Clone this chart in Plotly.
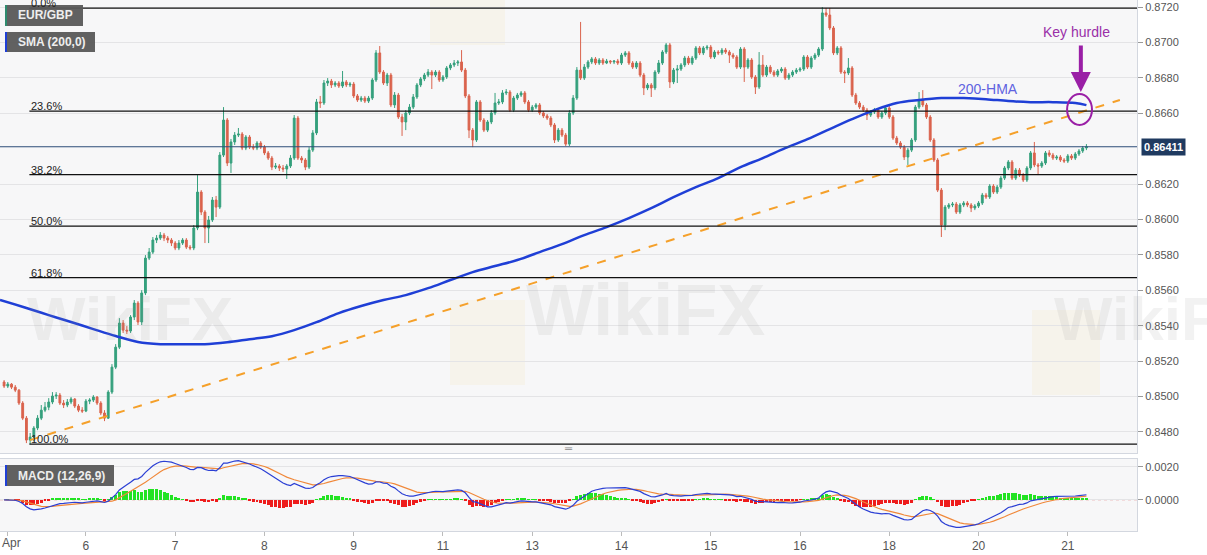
import plotly.graph_objects as go

# ---------------- data (EUR/GBP hourly) ----------------
first_open = 0.85082
close = [0.85059,0.85070,0.85053,0.85036,0.84963,0.84878,0.84754,0.84771,0.84822,0.84878,
0.84923,0.84940,0.84969,0.85003,0.85008,0.84963,0.84952,0.84969,0.84986,0.84946,
0.84923,0.84918,0.84974,0.84980,0.84997,0.84963,0.84907,0.84878,0.85025,0.85166,
0.85279,0.85415,0.85375,0.85370,0.85449,0.85528,0.85421,0.85585,0.85782,0.85816,
0.85884,0.85895,0.85912,0.85895,0.85884,0.85867,0.85839,0.85867,0.85884,0.85844,
0.85839,0.85952,0.86155,0.86042,0.85952,0.85997,0.86110,0.86070,0.86364,0.86562,
0.86319,0.86438,0.86477,0.86483,0.86404,0.86466,0.86409,0.86404,0.86432,0.86409,
0.86376,0.86347,0.86296,0.86302,0.86291,0.86285,0.86302,0.86347,0.86573,0.86347,
0.86336,0.86296,0.86392,0.86489,0.86664,0.86658,0.86771,0.86782,0.86760,0.86771,
0.86754,0.86777,0.86760,0.86765,0.86698,0.86675,0.86686,0.86669,0.86686,0.86788,
0.86941,0.86833,0.86771,0.86816,0.86647,0.86703,0.86579,0.86551,0.86602,0.86635,
0.86692,0.86760,0.86794,0.86816,0.86833,0.86816,0.86833,0.86788,0.86805,0.86856,
0.86873,0.86884,0.86890,0.86844,0.86698,0.86505,0.86449,0.86664,0.86562,0.86505,
0.86551,0.86602,0.86658,0.86664,0.86715,0.86720,0.86618,0.86686,0.86703,0.86715,
0.86664,0.86618,0.86635,0.86647,0.86602,0.86585,0.86573,0.86534,0.86449,0.86505,
0.86477,0.86426,0.86602,0.86686,0.86844,0.86799,0.86861,0.86890,0.86907,0.86884,
0.86901,0.86884,0.86895,0.86890,0.86895,0.86884,0.86929,0.86941,0.86884,0.86861,
0.86884,0.86816,0.86743,0.86760,0.86743,0.86833,0.86884,0.86946,0.86986,0.86777,
0.86844,0.86850,0.86873,0.86912,0.86884,0.86912,0.86969,0.86941,0.86969,0.86974,
0.86918,0.86946,0.86941,0.86957,0.86946,0.86929,0.86918,0.86861,0.86963,0.86861,
0.86901,0.86805,0.86748,0.86873,0.86816,0.86861,0.86833,0.86816,0.86839,0.86850,
0.86799,0.86816,0.86833,0.86844,0.86850,0.86918,0.86861,0.86912,0.86929,0.86963,
0.87167,0.87155,0.87082,0.86941,0.86969,0.86833,0.86828,0.86856,0.86703,0.86658,
0.86635,0.86618,0.86590,0.86607,0.86618,0.86579,0.86602,0.86630,0.86579,0.86460,
0.86432,0.86409,0.86353,0.86392,0.86449,0.86635,0.86675,0.86647,0.86579,0.86449,
0.86336,0.86166,0.85969,0.86070,0.86082,0.86087,0.86042,0.86082,0.86093,0.86082,
0.86065,0.86076,0.86093,0.86138,0.86127,0.86189,0.86155,0.86183,0.86234,0.86291,
0.86325,0.86234,0.86279,0.86251,0.86223,0.86291,0.86376,0.86308,0.86302,0.86319,
0.86376,0.86364,0.86347,0.86353,0.86336,0.86330,0.86359,0.86347,0.86370,0.86387,
0.86404,0.86411]
high = [0.85093,0.85082,0.85076,0.85065,0.85042,0.84974,0.84890,0.84794,0.84833,0.84895,
0.84952,0.84969,0.84991,0.85025,0.85025,0.85020,0.84980,0.84986,0.84997,0.84991,
0.84957,0.84940,0.84986,0.84991,0.85008,0.85003,0.84974,0.84923,0.85036,0.85183,
0.85296,0.85443,0.85432,0.85398,0.85460,0.85545,0.85539,0.85601,0.85799,0.85839,
0.85901,0.85912,0.85929,0.85924,0.85907,0.85895,0.85878,0.85884,0.85895,0.85895,
0.85856,0.85969,0.86251,0.86166,0.86053,0.86020,0.86127,0.86133,0.86381,0.86635,
0.86573,0.86455,0.86494,0.86517,0.86494,0.86477,0.86477,0.86426,0.86443,0.86443,
0.86421,0.86387,0.86359,0.86319,0.86313,0.86308,0.86313,0.86364,0.86590,0.86585,
0.86359,0.86347,0.86409,0.86505,0.86681,0.86698,0.86788,0.86799,0.86794,0.86782,
0.86782,0.86839,0.86788,0.86777,0.86777,0.86709,0.86698,0.86698,0.86698,0.86799,
0.86957,0.86980,0.86844,0.86828,0.86828,0.86720,0.86715,0.86596,0.86618,0.86652,
0.86709,0.86771,0.86805,0.86828,0.86850,0.86844,0.86844,0.86844,0.86816,0.86867,
0.86884,0.86901,0.86901,0.86957,0.86856,0.86709,0.86517,0.86675,0.86675,0.86573,
0.86562,0.86618,0.86715,0.86681,0.86731,0.86737,0.86731,0.86698,0.86715,0.86726,
0.86726,0.86675,0.86647,0.86658,0.86658,0.86613,0.86596,0.86585,0.86545,0.86517,
0.86517,0.86489,0.86618,0.86703,0.86861,0.87116,0.86878,0.86901,0.86918,0.86918,
0.86912,0.86912,0.86907,0.86901,0.86901,0.86907,0.86941,0.86952,0.86952,0.86895,
0.86895,0.86895,0.86828,0.86771,0.86771,0.86844,0.86901,0.86957,0.86997,0.86997,
0.86856,0.86873,0.86884,0.86924,0.86924,0.86924,0.86980,0.86980,0.86980,0.86986,
0.86986,0.86957,0.86957,0.86969,0.86969,0.86957,0.86941,0.86929,0.86974,0.86974,
0.86912,0.86912,0.86816,0.86946,0.86929,0.86873,0.86873,0.86844,0.86850,0.86861,
0.86861,0.86828,0.86844,0.86856,0.86861,0.86929,0.86929,0.86924,0.86941,0.86974,
0.87200,0.87195,0.87195,0.87093,0.86980,0.86980,0.86844,0.86912,0.86867,0.86715,
0.86669,0.86647,0.86630,0.86618,0.86630,0.86630,0.86613,0.86641,0.86641,0.86590,
0.86472,0.86443,0.86421,0.86404,0.86460,0.86647,0.86720,0.86731,0.86658,0.86590,
0.86460,0.86347,0.86178,0.86082,0.86093,0.86099,0.86099,0.86093,0.86104,0.86104,
0.86093,0.86087,0.86104,0.86150,0.86150,0.86200,0.86200,0.86195,0.86246,0.86302,
0.86336,0.86336,0.86291,0.86291,0.86263,0.86302,0.86387,0.86438,0.86319,0.86330,
0.86387,0.86392,0.86376,0.86364,0.86364,0.86347,0.86370,0.86370,0.86381,0.86398,
0.86415,0.86426]
low = [0.85048,0.85048,0.85042,0.85025,0.84952,0.84867,0.84737,0.84731,0.84748,0.84810,
0.84867,0.84912,0.84923,0.84957,0.84986,0.84952,0.84935,0.84940,0.84957,0.84935,
0.84912,0.84907,0.84912,0.84957,0.84969,0.84952,0.84895,0.84861,0.84873,0.85014,
0.85155,0.85268,0.85359,0.85353,0.85359,0.85432,0.85404,0.85404,0.85573,0.85771,
0.85805,0.85867,0.85884,0.85878,0.85867,0.85850,0.85827,0.85827,0.85856,0.85833,
0.85827,0.85827,0.85940,0.86025,0.85867,0.85867,0.85986,0.86014,0.86059,0.86353,
0.86302,0.86263,0.86421,0.86466,0.86392,0.86392,0.86398,0.86392,0.86392,0.86398,
0.86364,0.86336,0.86279,0.86285,0.86274,0.86268,0.86229,0.86291,0.86336,0.86336,
0.86319,0.86279,0.86285,0.86381,0.86477,0.86630,0.86647,0.86754,0.86743,0.86748,
0.86743,0.86743,0.86748,0.86748,0.86686,0.86664,0.86664,0.86658,0.86658,0.86675,
0.86777,0.86822,0.86760,0.86754,0.86635,0.86630,0.86568,0.86472,0.86505,0.86590,
0.86624,0.86681,0.86748,0.86782,0.86805,0.86737,0.86805,0.86777,0.86777,0.86794,
0.86844,0.86861,0.86867,0.86833,0.86686,0.86460,0.86409,0.86438,0.86551,0.86494,
0.86494,0.86539,0.86590,0.86647,0.86652,0.86703,0.86607,0.86607,0.86675,0.86692,
0.86652,0.86607,0.86607,0.86624,0.86590,0.86573,0.86562,0.86522,0.86432,0.86438,
0.86466,0.86415,0.86415,0.86590,0.86675,0.86788,0.86788,0.86850,0.86878,0.86873,
0.86873,0.86873,0.86878,0.86878,0.86878,0.86873,0.86873,0.86918,0.86873,0.86850,
0.86850,0.86805,0.86703,0.86731,0.86692,0.86731,0.86822,0.86873,0.86935,0.86743,
0.86765,0.86771,0.86839,0.86861,0.86873,0.86873,0.86901,0.86929,0.86929,0.86957,
0.86907,0.86907,0.86929,0.86929,0.86935,0.86884,0.86907,0.86850,0.86850,0.86777,
0.86850,0.86794,0.86709,0.86737,0.86805,0.86805,0.86822,0.86805,0.86805,0.86828,
0.86788,0.86788,0.86805,0.86822,0.86833,0.86839,0.86850,0.86850,0.86901,0.86918,
0.86952,0.87144,0.87070,0.86929,0.86929,0.86822,0.86771,0.86816,0.86692,0.86647,
0.86624,0.86607,0.86562,0.86579,0.86596,0.86568,0.86568,0.86590,0.86568,0.86449,
0.86421,0.86398,0.86336,0.86308,0.86381,0.86438,0.86624,0.86635,0.86568,0.86438,
0.86325,0.86155,0.85901,0.85940,0.86059,0.86070,0.86031,0.86031,0.86070,0.86070,
0.86042,0.86053,0.86065,0.86082,0.86116,0.86116,0.86144,0.86144,0.86172,0.86223,
0.86279,0.86223,0.86223,0.86240,0.86212,0.86212,0.86279,0.86296,0.86251,0.86291,
0.86308,0.86353,0.86336,0.86336,0.86325,0.86319,0.86319,0.86336,0.86336,0.86359,
0.86376,0.86392]

sma_idx = [-1.1, 6, 12, 18, 24, 30, 36, 42, 48, 54, 60, 66, 72, 78, 84, 90, 96, 102, 108, 114,
           120, 126, 132, 138, 144, 150, 156, 162, 168, 174, 180, 186, 192, 198, 204, 210,
           216, 222, 228, 234, 240, 246, 252, 258, 264, 270, 276, 282, 288, 291]
sma_val = [0.85545, 0.85500, 0.85460, 0.85421, 0.85381, 0.85342, 0.85308, 0.85296, 0.85296,
           0.85296, 0.85307, 0.85324, 0.85341, 0.85375, 0.85420, 0.85471, 0.85511, 0.85545,
           0.85573, 0.85612, 0.85658, 0.85703, 0.85737, 0.85771, 0.85816, 0.85861, 0.85912,
           0.85957, 0.86008, 0.86064, 0.86126, 0.86183, 0.86234, 0.86296, 0.86347, 0.86403,
           0.86454, 0.86511, 0.86567, 0.86618, 0.86658, 0.86675, 0.86686, 0.86686, 0.86680,
           0.86669, 0.86663, 0.86663, 0.86658, 0.86646]

# Fibonacci retracement
fib_high = 0.87194
fib_low = 0.84731
fib_levels = [0.0, 0.236, 0.382, 0.5, 0.618, 1.0]
fib_labels = ["0.0%", "23.6%", "38.2%", "50.0%", "61.8%", "100.0%"]

# support trend line (start/end)
trend_x = [7, 300]
trend_y = [0.84754, 0.86675]

last_price = 0.86411

tick_pos = [1, 22, 46, 70, 94, 118, 142, 166, 190, 214, 238, 262, 286]
tick_txt = ["", "6", "7", "8", "9", "11", "13", "14", "15", "16", "18", "20", "21"]
first_tick_label = "Apr"

price_ticks = [0.8480, 0.8500, 0.8520, 0.8540, 0.8560, 0.8580, 0.8600, 0.8620,
               0.8640, 0.8660, 0.8680, 0.8700, 0.8720]
price_ticks = [t for t in price_ticks if abs(t - 0.8640) > 1e-9]

# ---------------- derived ----------------
n = len(close)
idx = list(range(n))
opens = [first_open] + close[:-1]


def ema(vals, period):
    k = 2.0 / (period + 1)
    out = [vals[0]]
    for v in vals[1:]:
        out.append(out[-1] + k * (v - out[-1]))
    return out


e12 = ema(close, 12)
e26 = ema(close, 26)
macd = [a - b for a, b in zip(e12, e26)]
signal = ema(macd, 9)
hist = [m - s for m, s in zip(macd, signal)]

GREEN = "#35a07d"
RED = "#da634d"
FONT = "Liberation Sans, Arial, sans-serif"

fig = go.Figure()

fig.add_trace(go.Candlestick(
    x=idx, open=opens, high=high, low=low, close=close,
    increasing=dict(line=dict(color=GREEN, width=1), fillcolor=GREEN),
    decreasing=dict(line=dict(color=RED, width=1), fillcolor=RED),
    whiskerwidth=0, showlegend=False, hoverinfo="skip",
    xaxis="x", yaxis="y"))

fig.add_trace(go.Scatter(
    x=sma_idx, y=sma_val, mode="lines", line=dict(color="#1f3fd6", width=2.5, shape="spline"),
    showlegend=False, hoverinfo="skip", xaxis="x", yaxis="y"))

fig.add_trace(go.Scatter(
    x=trend_x, y=trend_y, mode="lines", line=dict(color="#f5a02a", width=2, dash="dash"),
    showlegend=False, hoverinfo="skip", xaxis="x", yaxis="y"))

# MACD pane
fig.add_trace(go.Bar(
    x=idx, y=hist, width=0.8,
    marker=dict(color=["#22e322" if h >= 0 else "#ee1c1c" for h in hist], line=dict(width=0)),
    showlegend=False, hoverinfo="skip", xaxis="x2", yaxis="y2"))
fig.add_trace(go.Scatter(
    x=idx, y=signal, mode="lines", line=dict(color="#f0883a", width=1.2),
    showlegend=False, hoverinfo="skip", xaxis="x2", yaxis="y2"))
fig.add_trace(go.Scatter(
    x=idx, y=macd, mode="lines", line=dict(color="#2b3fd4", width=1.2),
    showlegend=False, hoverinfo="skip", xaxis="x2", yaxis="y2"))

shapes = []
annotations = []

# Fibonacci lines and labels
rng = fib_high - fib_low
for lv, lab in zip(fib_levels, fib_labels):
    yv = fib_high - lv * rng
    shapes.append(dict(type="line", xref="x", yref="y", x0=6.8, x1=304.6, y0=yv, y1=yv,
                       line=dict(color="#111111", width=1.3), layer="above"))
    annotations.append(dict(x=6.8, y=yv, xref="x", yref="y", text=lab, showarrow=False,
                            xanchor="left", yanchor="bottom", yshift=-3,
                            font=dict(family=FONT, size=11, color="#222222")))

# last price line
shapes.append(dict(type="line", xref="paper", yref="y", x0=0, x1=1, y0=last_price, y1=last_price,
                   line=dict(color="#2c4d78", width=1)))

# MACD zero line
shapes.append(dict(type="line", xref="paper", yref="y2", x0=0, x1=1, y0=0, y1=0,
                   line=dict(color="rgba(230,140,140,0.6)", width=1, dash="dot"), layer="below"))

# ellipse around key hurdle
shapes.append(dict(type="circle", xref="x", yref="y", x0=285.8, x1=292.5, y0=0.86534, y1=0.86709,
                   line=dict(color="#9a1fa6", width=2)))


# legend boxes (TradingView style)
def px_x(px):
    return px / 1137.0


def px_y(py):
    return (531.0 - py) / 531.0


for (x0, y0, x1, y1, stripe, txt) in [
        (5, 5, 83, 26, "#2e8b6e", "EUR/GBP"),
        (5, 32, 95, 52, "#1f3fd6", "SMA (200,0)"),
        (5, 465, 114, 486, "#1f3fd6", "MACD (12,26,9)")]:
    shapes.append(dict(type="rect", xref="paper", yref="paper", x0=px_x(x0), x1=px_x(x1),
                       y0=px_y(y1), y1=px_y(y0), fillcolor="rgba(88,88,88,0.95)",
                       line=dict(width=0), layer="above"))
    shapes.append(dict(type="rect", xref="paper", yref="paper", x0=px_x(x0), x1=px_x(x0 + 2),
                       y0=px_y(y1), y1=px_y(y0), fillcolor=stripe, line=dict(width=0), layer="above"))
    annotations.append(dict(x=px_x(x0 + 11), y=px_y((y0 + y1) / 2), xref="paper", yref="paper",
                            text="<b>" + txt + "</b>", showarrow=False, xanchor="left", yanchor="middle",
                            font=dict(family=FONT, size=12, color="#eeeeee")))

# first x label (left aligned so it stays on the page)
annotations.append(dict(x=0, y=0, xref="paper", yref="paper", text=first_tick_label, showarrow=False,
                        xanchor="left", yanchor="top", yshift=-3,
                        font=dict(family=FONT, size=12, color="#555555")))

# pane separator handle
annotations.append(dict(x=px_x(568), y=px_y(456), xref="paper", yref="paper", text="═",
                        showarrow=False, font=dict(size=10, color="#888888")))

# watermarks
for (cx, cy, sz, tx) in [(645, 310, 72, "WikiFX"), (25, 318, 62, "WikiFX"), (1262, 318, 62, "WikiFX")]:
    annotations.append(dict(x=px_x(cx), y=px_y(cy), xref="paper", yref="paper", text="<b>" + tx + "</b>",
                            showarrow=False, font=dict(family=FONT, size=sz, color="rgba(150,150,150,0.12)")))
for (x0, y0, x1, y1) in [(450, 300, 525, 385), (1032, 310, 1100, 395), (430, -20, 505, 45)]:
    shapes.append(dict(type="rect", xref="paper", yref="paper", x0=px_x(x0), x1=px_x(x1),
                       y0=px_y(y1), y1=px_y(y0), fillcolor="rgba(245,205,90,0.08)",
                       line=dict(width=0), layer="below"))

# annotations: 200-HMA, Key hurdle, arrow
annotations.append(dict(x=264.5, y=0.86737, xref="x", yref="y", text="200-HMA", showarrow=False,
                        font=dict(family=FONT, size=14, color="#5f62e0")))
annotations.append(dict(x=288.2, y=0.87059, xref="x", yref="y", text="Key hurdle", showarrow=False,
                        font=dict(family=FONT, size=14, color="#9a2fa8")))
annotations.append(dict(x=289.5, y=0.86720, xref="x", yref="y", ax=0, ay=-48, text="",
                        showarrow=True, arrowhead=2, arrowsize=1, arrowwidth=4, arrowcolor="#9a1fa6"))

# last price tag
annotations.append(dict(x=1, y=last_price, xref="paper", yref="y", text="<b>0.86411</b>", showarrow=False,
                        xanchor="left", xshift=4, bgcolor="#1f3a60", borderpad=2,
                        font=dict(family=FONT, size=11, color="#ffffff")))

fig.update_layout(
    width=1207, height=555,
    margin=dict(l=0, r=70, t=0, b=24),
    paper_bgcolor="#ffffff", plot_bgcolor="#f7f7f8",
    font=dict(family=FONT, size=11, color="#555555"),
    showlegend=False, bargap=0,
    shapes=shapes, annotations=annotations,
    xaxis=dict(domain=[0, 1], anchor="y", range=[-1.1, 304.6], showgrid=False, zeroline=False,
               showticklabels=False, rangeslider=dict(visible=False), showline=True, mirror=True,
               linecolor="#d3d7df", linewidth=1),
    xaxis2=dict(domain=[0, 1], anchor="y2", matches="x", range=[-1.1, 304.6], showgrid=False,
                zeroline=False, tickvals=tick_pos, ticktext=tick_txt, ticks="outside", ticklen=4,
                tickcolor="#bbbbbb", showline=True, mirror=True, linecolor="#d3d7df", linewidth=1,
                tickfont=dict(family=FONT, size=12, color="#555555")),
    yaxis=dict(domain=[1 - 453 / 531, 1], anchor="x", side="right", range=[0.84681, 0.87240],
               tickvals=price_ticks, tickformat=".4f", showgrid=True, gridcolor="#e4e4e6",
               zeroline=False, ticks="outside", ticklen=5, tickcolor="#999999",
               showline=True, mirror=True, linecolor="#d3d7df", linewidth=1,
               tickfont=dict(family=FONT, size=11, color="#555555")),
    yaxis2=dict(domain=[0, 1 - 459 / 531], anchor="x2", side="right", range=[-0.00188, 0.00248],
                tickvals=[0.0, 0.002], tickformat=".4f", showgrid=True, gridcolor="#e4e4e6",
                zeroline=False, ticks="outside", ticklen=5, tickcolor="#999999",
                showline=True, mirror=True, linecolor="#d3d7df", linewidth=1,
                tickfont=dict(family=FONT, size=11, color="#555555")),
)

fig.write_html("out.html", config={"displayModeBar": False},
               post_script="document.body.style.margin='0px';document.body.style.overflow='hidden';")
